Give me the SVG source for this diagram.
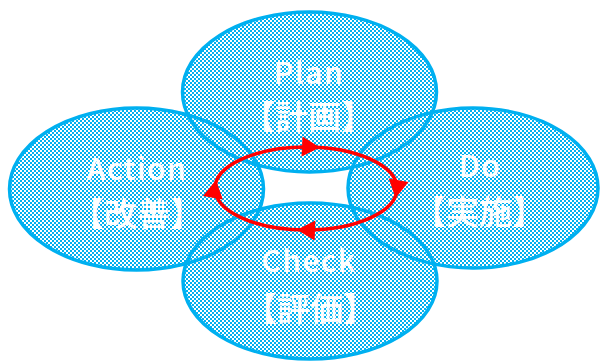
<svg xmlns="http://www.w3.org/2000/svg" width="600" height="361" viewBox="0 0 600 361">
  <defs>
    <!-- small checker hatch used as the fill of every phase ellipse -->
    <pattern id="check" width="4" height="4" patternUnits="userSpaceOnUse">
      <rect x="0" y="0" width="2" height="2" fill="#00B0F0"/>
      <rect x="2" y="2" width="2" height="2" fill="#00B0F0"/>
    </pattern>
    <!-- arrowhead with its tip at the origin, pointing along +x -->
    <path id="head" d="M0,0 L-18,-10 L-18,10 Z"/>
    <style>
      .phase { fill: url(#check); stroke: #00B0F0; stroke-width: 3.5; }
      .lbl { fill: #FFFFFF; font-family: "Noto Sans CJK JP", "Noto Sans", sans-serif; font-weight: 500; text-anchor: middle; }
      .en { font-size: 30px; letter-spacing: 1.5px; }
      .ja { font-size: 33px; }
      .cyc { fill: none; stroke: #FF0000; stroke-width: 3.5; }
      .tip { fill: #FF0000; }
    </style>
  </defs>
  <rect width="600" height="361" fill="#FFFFFF"/>

  <g id="plan">
    <ellipse class="phase" cx="309.5" cy="92" rx="127" ry="80"/>
  </g>
  <g id="action">
    <ellipse class="phase" cx="136.5" cy="189" rx="127" ry="81"/>
  </g>
  <g id="do">
    <ellipse class="phase" cx="473" cy="188" rx="125" ry="80"/>
  </g>
  <g id="check-node">
    <ellipse class="phase" cx="310" cy="281" rx="127" ry="78"/>
  </g>

  <!-- labels -->
  <g id="labels">
    <text class="lbl en" x="309" y="84">Plan</text>
    <text class="lbl ja" x="308" y="129">【計画】</text>
    <text class="lbl en" x="137" y="180">Action</text>
    <text class="lbl ja" x="137" y="226">【改善】</text>
    <text class="lbl en" x="480" y="177">Do</text>
    <text class="lbl ja" x="479" y="224">【実施】</text>
    <text class="lbl en" x="309" y="272">Check</text>
    <text class="lbl ja" x="310" y="321">【評価】</text>
  </g>

  <!-- clockwise PDCA cycle -->
  <g id="connectors">
    <ellipse class="cyc" cx="306" cy="188.5" rx="91" ry="41.5"/>
    <use href="#head" class="tip" transform="translate(320,147.5) rotate(3)"/>
    <use href="#head" class="tip" transform="translate(395.5,198) rotate(100)"/>
    <use href="#head" class="tip" transform="translate(297,229.8) rotate(182)"/>
    <use href="#head" class="tip" transform="translate(216,180) rotate(-80)"/>
  </g>
</svg>
